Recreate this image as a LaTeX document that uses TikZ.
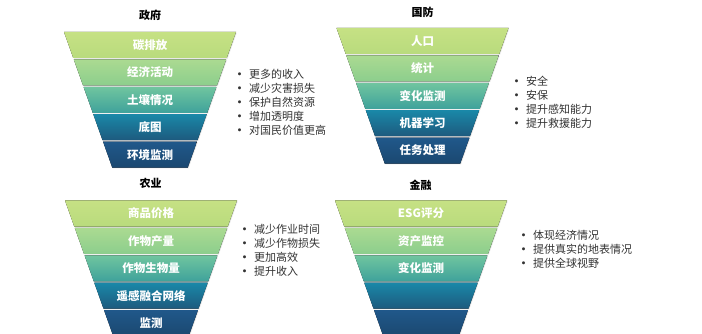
\documentclass[tikz,border=0pt]{standalone}
\usepackage{fontspec}
\setmainfont{Noto Sans CJK SC}
\usetikzlibrary{shadows}
\definecolor{bt0}{HTML}{C6E184}
\definecolor{bb0}{HTML}{B9DB7D}
\definecolor{bt1}{HTML}{ABDA91}
\definecolor{bb1}{HTML}{8CCE8D}
\definecolor{bt2}{HTML}{70C59F}
\definecolor{bb2}{HTML}{3FA29B}
\definecolor{bt3}{HTML}{1A88A8}
\definecolor{bb3}{HTML}{1D5A7E}
\definecolor{bt4}{HTML}{20588A}
\definecolor{bb4}{HTML}{1B4870}
\definecolor{listgray}{HTML}{333333}
\newcommand\itm{\makebox[15pt][l]{\bfseries•}}
\tikzset{
  bandlabel/.style={text=white, font=\fontsize{11.5}{12}\selectfont\bfseries, inner sep=0pt},
  titlelabel/.style={text=black, font=\fontsize{11}{12}\selectfont\bfseries, inner sep=0pt},
  listlabel/.style={text=listgray, font=\fontsize{11}{13.9}\selectfont, align=left, inner sep=0pt, anchor=base west},
  bandshape/.style={drop shadow={opacity=0.18, shadow xshift=0.8pt, shadow yshift=-0.8pt}}
}
% #1 cx, #2 top y, #3 prefix name, #4 labels
\newcommand\myfunnel[4]{%
  \foreach \lab [count=\i from 0] in {#4} {%
    \pgfmathsetmacro\yt{#2+\i*27.4}%
    \pgfmathsetmacro\yb{\yt+26}%
    \pgfmathsetmacro\wt{86-0.356*(\i*27.4)}%
    \pgfmathsetmacro\wb{86-0.356*(\i*27.4+26)}%
    \fill[bandshape, top color=bt\i, bottom color=bb\i]
      (#1-\wt,\yt) -- (#1+\wt,\yt) -- (#1+\wb,\yb) -- (#1-\wb,\yb) -- cycle;
    \node[bandlabel] (#3\i) at (#1,\yt+13) {\lab};
  }%
}
\begin{document}
\begin{tikzpicture}[x=1pt,y=-1pt]
\useasboundingbox (0,0) rectangle (702,334);
\clip (0,0) rectangle (702,334);
\fill[white] (0,0) rectangle (702,334);

% 政府
\node[titlelabel] (t1) at (150,15.5) {政府};
\myfunnel{150}{32}{fa}{碳排放,经济活动,土壤情况,底图,环境监测}
\node[listlabel] (l1) at (234,134.2) {\itm 更多的收入\\\itm 减少灾害损失\\\itm 保护自然资源\\\itm 增加透明度\\\itm 对国民价值更高};

% 国防
\node[titlelabel] (t2) at (422.5,12.5) {国防};
\myfunnel{422.5}{28}{fb}{人口,统计,变化监测,机器学习,任务处理}
\node[listlabel] (l2) at (511,127.2) {\itm 安全\\\itm 安保\\\itm 提升感知能力\\\itm 提升救援能力};

% 农业
\node[titlelabel] (t3) at (150.5,183.5) {农业};
\myfunnel{151}{200.5}{fc}{商品价格,作物产量,作物生物量,遥感融合网络,监测}
\node[listlabel] (l3) at (239,275.2) {\itm 减少作业时间\\\itm 减少作物损失\\\itm 更加高效\\\itm 提升收入};

% 金融
\node[titlelabel] (t4) at (420.5,185.5) {金融};
\myfunnel{421}{200.5}{fd}{ESG评分,资产监控,变化监测,{},{}}
\node[listlabel] (l4) at (518,267.2) {\itm 体现经济情况\\\itm 提供真实的地表情况\\\itm 提供全球视野};
\end{tikzpicture}
\end{document}
